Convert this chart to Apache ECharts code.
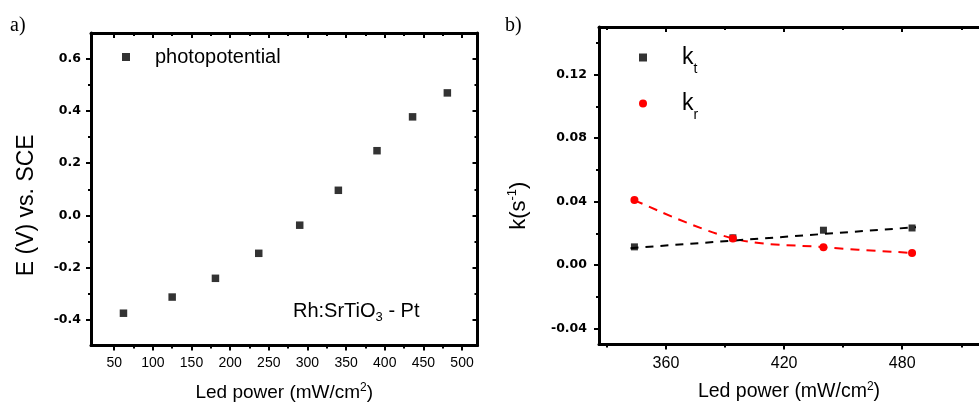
<!DOCTYPE html>
<html><head><meta charset="utf-8">
<script src="https://cdn.jsdelivr.net/npm/echarts@6.0.0/dist/echarts.min.js"></script>
<style>html,body{margin:0;padding:0;background:#fff}#c{width:979px;height:409px}</style>
</head><body><div id="c"></div>
<script>
// ---- Panel a data ----
const ledPowerA = [62, 125, 181, 237, 290, 340, 390, 436, 481];
const photopotential = [-0.376, -0.314, -0.242, -0.146, -0.038, 0.096, 0.248, 0.378, 0.470];
const xTicksA = [50, 100, 150, 200, 250, 300, 350, 400, 450, 500];
const xMinorA = [75, 125, 175, 225, 275, 325, 375, 425, 475];
const yTicksA = [-0.4, -0.2, 0, 0.2, 0.4, 0.6];
const yMinorA = [-0.3, -0.1, 0.1, 0.3, 0.5];
// ---- Panel b data ----
const ledPowerB = [344, 394, 440, 485];
const kt = [0.0115, 0.0172, 0.0220, 0.0234];
const kr = [0.0410, 0.0168, 0.0113, 0.0077];
const ktFitX = [342, 487];
const ktFitY = [0.0107, 0.0239];
const xTicksB = [360, 420, 480];
const xMinorB = [330, 390, 450, 510];
const yTicksB = [-0.04, 0, 0.04, 0.08, 0.12];
const yMinorB = [-0.02, 0.02, 0.06, 0.10, 0.14];

const FONT = 'Liberation Sans';
const xAxes = [], yAxes = [];
function addAxis(list, o) {
  list.push({
    type: 'value', gridIndex: o.grid, position: o.pos, min: o.min, max: o.max,
    axisLine: {show: !!o.line, onZero: false, lineStyle: {color: '#000', width: 3}},
    axisTick: {show: true, inside: !!o.inside, length: o.len, customValues: o.ticks,
               lineStyle: {color: '#000', width: 2}},
    axisLabel: o.labels ? {show: true, customValues: o.labels, margin: o.margin, formatter: o.fmt,
               color: '#000', fontFamily: o.lf, fontSize: o.ls, fontWeight: o.lw} : {show: false},
    splitLine: {show: false},
    name: o.name || '', nameLocation: 'middle', nameGap: o.gap || 0, nameRotate: o.rot,
    nameTextStyle: o.nts
  });
  return list.length - 1;
}
const supRich = {sup: {fontSize: 12, fontFamily: FONT, color: '#000', verticalAlign: 'top', lineHeight: 20}};

// Panel a axes
const xa = addAxis(xAxes, {grid: 0, pos: 'bottom', min: 20, max: 520, line: true, len: 5, ticks: xTicksA,
  labels: xTicksA, margin: 11, fmt: v => String(v), lf: FONT, ls: 14, lw: 'normal',
  name: 'Led power (mW/cm{sup|2})', gap: 36,
  nts: {fontFamily: FONT, fontSize: 19, color: '#000', lineHeight: 22, rich: supRich}});
addAxis(xAxes, {grid: 0, pos: 'bottom', min: 20, max: 520, len: 3, ticks: xMinorA});
addAxis(xAxes, {grid: 0, pos: 'top', min: 20, max: 520, line: true, inside: true, len: 5, ticks: xTicksA});
addAxis(xAxes, {grid: 0, pos: 'top', min: 20, max: 520, inside: true, len: 3, ticks: xMinorA});
const ya = addAxis(yAxes, {grid: 0, pos: 'left', min: -0.5, max: 0.7, line: true, len: 5, ticks: yTicksA,
  labels: yTicksA, margin: 10, fmt: v => v.toFixed(1), lf: 'DejaVu Sans', ls: 12.5, lw: 'bold',
  name: 'E (V) vs. SCE', gap: 53, rot: 90,
  nts: {fontFamily: FONT, fontSize: 23, color: '#000', padding: [0, 32, 0, 0]}});
addAxis(yAxes, {grid: 0, pos: 'left', min: -0.5, max: 0.7, len: 3, ticks: yMinorA});
addAxis(yAxes, {grid: 0, pos: 'right', min: -0.5, max: 0.7, line: true, inside: true, len: 5, ticks: yTicksA});
addAxis(yAxes, {grid: 0, pos: 'right', min: -0.5, max: 0.7, inside: true, len: 3, ticks: yMinorA});

// Panel b axes
const xb = addAxis(xAxes, {grid: 1, pos: 'bottom', min: 326, max: 519, line: true, len: 5, ticks: xTicksB,
  labels: xTicksB, margin: 11, fmt: v => String(v), lf: FONT, ls: 16, lw: 'normal',
  name: 'Led power (mW/cm{sup|2})', gap: 36,
  nts: {fontFamily: FONT, fontSize: 19.5, color: '#000', lineHeight: 22, rich: supRich}});
addAxis(xAxes, {grid: 1, pos: 'bottom', min: 326, max: 519, len: 3, ticks: xMinorB});
addAxis(xAxes, {grid: 1, pos: 'top', min: 326, max: 519, line: true, inside: true, len: 5, ticks: xTicksB});
addAxis(xAxes, {grid: 1, pos: 'top', min: 326, max: 519, inside: true, len: 3, ticks: xMinorB});
const yb = addAxis(yAxes, {grid: 1, pos: 'left', min: -0.05, max: 0.15, line: true, len: 5, ticks: yTicksB,
  labels: yTicksB, margin: 12, fmt: v => v.toFixed(2), lf: 'DejaVu Sans', ls: 12.5, lw: 'bold',
  name: 'k(s{sup|-1})', gap: 67, rot: 90,
  nts: {fontFamily: FONT, fontSize: 22, color: '#000', padding: [0, 40, 0, 0], lineHeight: 26,
        rich: {sup: {fontSize: 13, fontFamily: FONT, color: '#000', verticalAlign: 'top', lineHeight: 26}}}});
addAxis(yAxes, {grid: 1, pos: 'left', min: -0.05, max: 0.15, len: 3, ticks: yMinorB});

const kRich = {
  k: {fontSize: 23, fontFamily: FONT, color: '#000', lineHeight: 38, verticalAlign: 'middle'},
  s: {fontSize: 14, fontFamily: FONT, color: '#000', lineHeight: 38, verticalAlign: 'bottom'}
};

const option = {
  backgroundColor: '#fff',
  animation: false,
  grid: [
    {left: 91, right: 501.5, top: 33, bottom: 63.5},
    {left: 599, right: -10, top: 27, bottom: 64.5}
  ],
  xAxis: xAxes,
  yAxis: yAxes,
  title: [
    {text: 'a)', left: 10, top: 16, padding: 0,
     textStyle: {fontFamily: 'Liberation Serif', fontSize: 20, fontWeight: 'normal', color: '#000'}},
    {text: 'b)', left: 505, top: 16, padding: 0,
     textStyle: {fontFamily: 'Liberation Serif', fontSize: 20, fontWeight: 'normal', color: '#000'}},
    {text: 'Rh:SrTiO{sub|3} - Pt', left: 293, top: 298, padding: 0,
     textStyle: {fontFamily: FONT, fontSize: 20, fontWeight: 'normal', color: '#000', lineHeight: 26,
       rich: {sub: {fontSize: 13, fontFamily: FONT, color: '#000', verticalAlign: 'bottom', lineHeight: 26}}}}
  ],
  legend: [
    {data: [{name: 'photopotential', icon: 'rect'}], left: 122, top: 47, padding: 0,
     itemWidth: 8, itemHeight: 8, selectedMode: false,
     textStyle: {fontFamily: FONT, fontSize: 20, color: '#000', padding: [0, 0, 0, 20]}},
    {data: [{name: 'kt', icon: 'rect'}], left: 639, top: 46, padding: 0,
     itemWidth: 8, itemHeight: 8, selectedMode: false,
     formatter: () => '{k|k}{s|t}',
     textStyle: {padding: [0, 0, 0, 30], rich: kRich}},
    {data: [{name: 'kr', icon: 'circle'}], left: 639, top: 92, padding: 0,
     itemWidth: 8, itemHeight: 8, selectedMode: false,
     formatter: () => '{k|k}{s|r}',
     textStyle: {padding: [0, 0, 0, 30], rich: kRich}}
  ],
  series: [
    {type: 'scatter', name: 'photopotential', xAxisIndex: xa, yAxisIndex: ya,
     data: ledPowerA.map((x, i) => [x, photopotential[i]]),
     symbol: 'rect', symbolSize: 7.5, itemStyle: {color: '#000'}},
    {type: 'line', name: 'kr', xAxisIndex: xb, yAxisIndex: yb,
     data: ledPowerB.map((x, i) => [x, kr[i]]), smooth: 0.35,
     symbol: 'circle', symbolSize: 8, itemStyle: {color: '#ff0000'},
     lineStyle: {color: '#ff0000', width: 2, type: [9, 7]}},
    {type: 'line', name: 'ktfit', xAxisIndex: xb, yAxisIndex: yb,
     data: ktFitX.map((x, i) => [x, ktFitY[i]]), symbol: 'none',
     lineStyle: {color: '#000', width: 2, type: [8, 7]}},
    {type: 'scatter', name: 'kt', xAxisIndex: xb, yAxisIndex: yb,
     data: ledPowerB.map((x, i) => [x, kt[i]]),
     symbol: 'rect', symbolSize: 7, itemStyle: {color: '#000'}}
  ]
};
const chart = echarts.init(document.getElementById('c'), null, {renderer: 'canvas'});
chart.setOption(option);
</script>
</body></html>
